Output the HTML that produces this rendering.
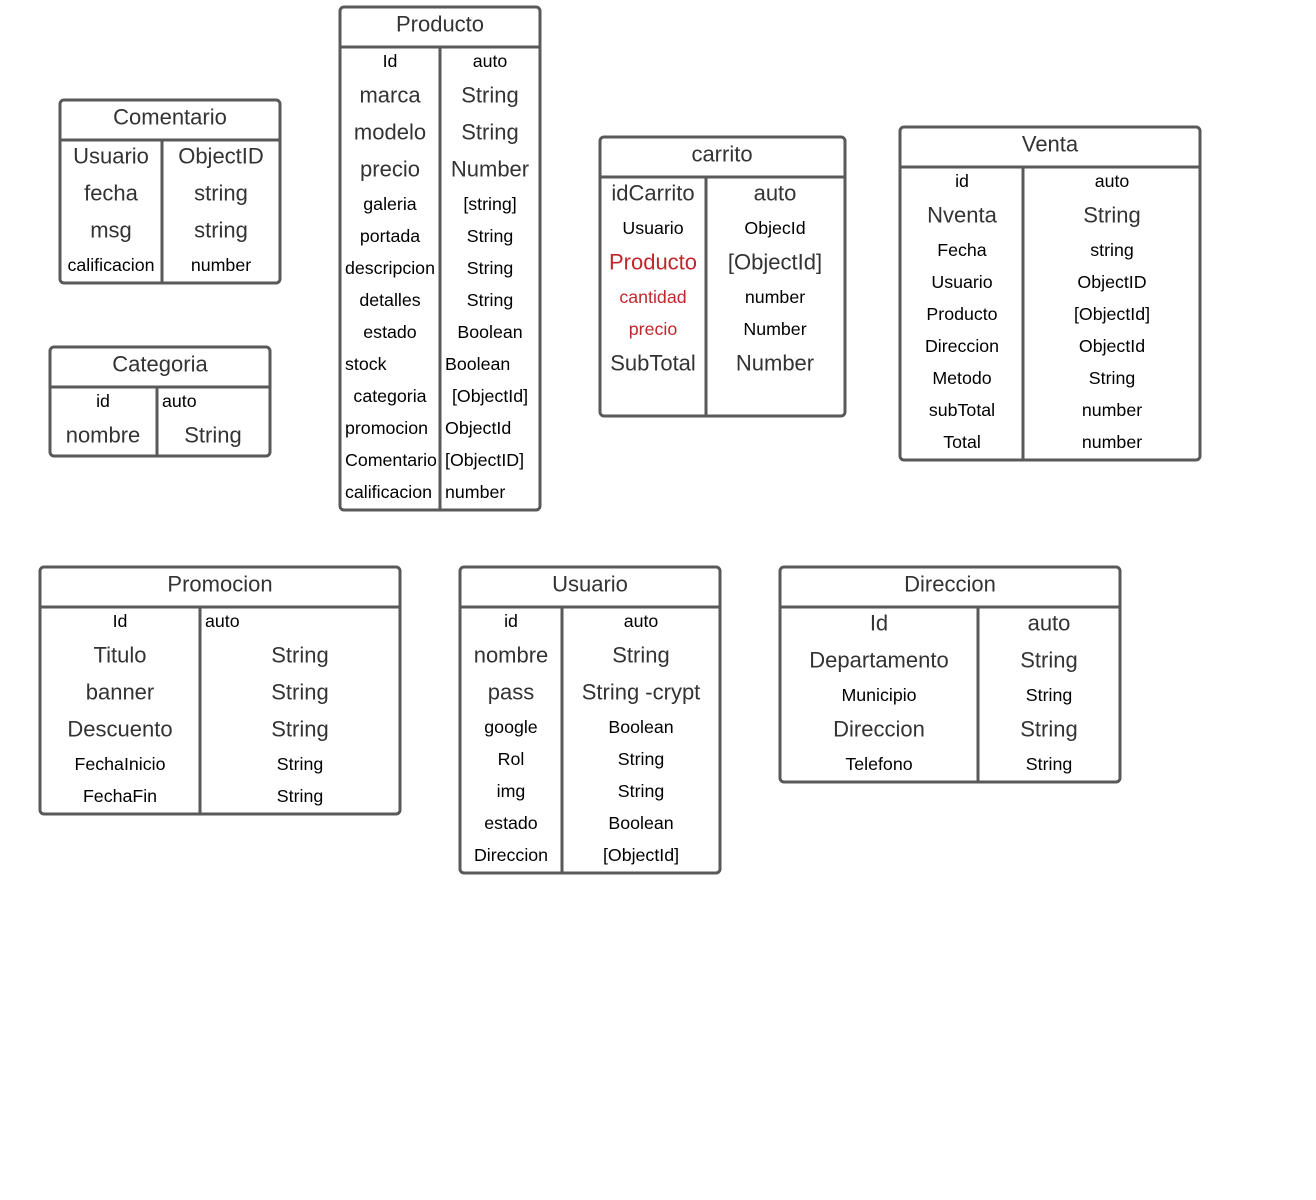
<!DOCTYPE html>
<html><head><meta charset="utf-8"><style>
body{margin:0;background:#fff}
svg text{font-family:"Liberation Sans",sans-serif;dominant-baseline:central}
.t{font-size:22px;fill:#333;text-anchor:middle}
.L{font-size:22px;fill:#333;text-anchor:middle}
.s{font-size:17.8px;fill:#000;text-anchor:middle}
.sl{font-size:17.8px;fill:#000;text-anchor:start}
.r{fill:#c0272d}
rect,line{stroke:#595959;stroke-width:3;fill:none}
</style></head><body>
<svg width="1316" height="1195" xmlns="http://www.w3.org/2000/svg">
<!-- Producto -->
<rect x="340" y="7" width="200" height="503" rx="4"/><line x1="340" y1="47" x2="540" y2="47"/><line x1="440" y1="47" x2="440" y2="510"/>
<text class="t" x="440" y="24">Producto</text>
<text class="s" x="390" y="61">Id</text><text class="s" x="490" y="61">auto</text>
<text class="L" x="390" y="95">marca</text><text class="L" x="490" y="95">String</text>
<text class="L" x="390" y="132">modelo</text><text class="L" x="490" y="132">String</text>
<text class="L" x="390" y="169">precio</text><text class="L" x="490" y="169">Number</text>
<text class="s" x="390" y="204">galeria</text><text class="s" x="490" y="204">[string]</text>
<text class="s" x="390" y="236">portada</text><text class="s" x="490" y="236">String</text>
<text class="s" x="390" y="268">descripcion</text><text class="s" x="490" y="268">String</text>
<text class="s" x="390" y="300">detalles</text><text class="s" x="490" y="300">String</text>
<text class="s" x="390" y="332">estado</text><text class="s" x="490" y="332">Boolean</text>
<text class="sl" x="345" y="364">stock</text><text class="sl" x="445" y="364">Boolean</text>
<text class="s" x="390" y="396">categoria</text><text class="s" x="490" y="396">[ObjectId]</text>
<text class="sl" x="345" y="428">promocion</text><text class="sl" x="445" y="428">ObjectId</text>
<text class="sl" x="345" y="460">Comentario</text><text class="sl" x="445" y="460">[ObjectID]</text>
<text class="sl" x="345" y="492">calificacion</text><text class="sl" x="445" y="492">number</text>
<!-- Comentario -->
<rect x="60" y="100" width="220" height="183" rx="4"/><line x1="60" y1="140" x2="280" y2="140"/><line x1="162" y1="140" x2="162" y2="283"/>
<text class="t" x="170" y="117">Comentario</text>
<text class="L" x="111" y="156">Usuario</text><text class="L" x="221" y="156">ObjectID</text>
<text class="L" x="111" y="193">fecha</text><text class="L" x="221" y="193">string</text>
<text class="L" x="111" y="230">msg</text><text class="L" x="221" y="230">string</text>
<text class="s" x="111" y="265">calificacion</text><text class="s" x="221" y="265">number</text>
<!-- Categoria -->
<rect x="50" y="347" width="220" height="109" rx="4"/><line x1="50" y1="387" x2="270" y2="387"/><line x1="157" y1="387" x2="157" y2="456"/>
<text class="t" x="160" y="364">Categoria</text>
<text class="s" x="103" y="401">id</text><text class="sl" x="162" y="401">auto</text>
<text class="L" x="103" y="435">nombre</text><text class="L" x="213" y="435">String</text>
<!-- carrito -->
<rect x="600" y="137" width="245" height="279" rx="4"/><line x1="600" y1="177" x2="845" y2="177"/><line x1="706" y1="177" x2="706" y2="416"/>
<text class="t" x="722" y="154">carrito</text>
<text class="L" x="653" y="193">idCarrito</text><text class="L" x="775" y="193">auto</text>
<text class="s" x="653" y="228">Usuario</text><text class="s" x="775" y="228">ObjecId</text>
<text class="L r" x="653" y="262">Producto</text><text class="L" x="775" y="262">[ObjectId]</text>
<text class="s r" x="653" y="297">cantidad</text><text class="s" x="775" y="297">number</text>
<text class="s r" x="653" y="329">precio</text><text class="s" x="775" y="329">Number</text>
<text class="L" x="653" y="363">SubTotal</text><text class="L" x="775" y="363">Number</text>
<!-- Venta -->
<rect x="900" y="127" width="300" height="333" rx="4"/><line x1="900" y1="167" x2="1200" y2="167"/><line x1="1023" y1="167" x2="1023" y2="460"/>
<text class="t" x="1050" y="144">Venta</text>
<text class="s" x="962" y="181">id</text><text class="s" x="1112" y="181">auto</text>
<text class="L" x="962" y="215">Nventa</text><text class="L" x="1112" y="215">String</text>
<text class="s" x="962" y="250">Fecha</text><text class="s" x="1112" y="250">string</text>
<text class="s" x="962" y="282">Usuario</text><text class="s" x="1112" y="282">ObjectID</text>
<text class="s" x="962" y="314">Producto</text><text class="s" x="1112" y="314">[ObjectId]</text>
<text class="s" x="962" y="346">Direccion</text><text class="s" x="1112" y="346">ObjectId</text>
<text class="s" x="962" y="378">Metodo</text><text class="s" x="1112" y="378">String</text>
<text class="s" x="962" y="410">subTotal</text><text class="s" x="1112" y="410">number</text>
<text class="s" x="962" y="442">Total</text><text class="s" x="1112" y="442">number</text>
<!-- Promocion -->
<rect x="40" y="567" width="360" height="247" rx="4"/><line x1="40" y1="607" x2="400" y2="607"/><line x1="200" y1="607" x2="200" y2="814"/>
<text class="t" x="220" y="584">Promocion</text>
<text class="s" x="120" y="621">Id</text><text class="sl" x="205" y="621">auto</text>
<text class="L" x="120" y="655">Titulo</text><text class="L" x="300" y="655">String</text>
<text class="L" x="120" y="692">banner</text><text class="L" x="300" y="692">String</text>
<text class="L" x="120" y="729">Descuento</text><text class="L" x="300" y="729">String</text>
<text class="s" x="120" y="764">FechaInicio</text><text class="s" x="300" y="764">String</text>
<text class="s" x="120" y="796">FechaFin</text><text class="s" x="300" y="796">String</text>
<!-- Usuario -->
<rect x="460" y="567" width="260" height="306" rx="4"/><line x1="460" y1="607" x2="720" y2="607"/><line x1="562" y1="607" x2="562" y2="873"/>
<text class="t" x="590" y="584">Usuario</text>
<text class="s" x="511" y="621">id</text><text class="s" x="641" y="621">auto</text>
<text class="L" x="511" y="655">nombre</text><text class="L" x="641" y="655">String</text>
<text class="L" x="511" y="692">pass</text><text class="L" x="641" y="692">String -crypt</text>
<text class="s" x="511" y="727">google</text><text class="s" x="641" y="727">Boolean</text>
<text class="s" x="511" y="759">Rol</text><text class="s" x="641" y="759">String</text>
<text class="s" x="511" y="791">img</text><text class="s" x="641" y="791">String</text>
<text class="s" x="511" y="823">estado</text><text class="s" x="641" y="823">Boolean</text>
<text class="s" x="511" y="855">Direccion</text><text class="s" x="641" y="855">[ObjectId]</text>
<!-- Direccion -->
<rect x="780" y="567" width="340" height="215" rx="4"/><line x1="780" y1="607" x2="1120" y2="607"/><line x1="978" y1="607" x2="978" y2="782"/>
<text class="t" x="950" y="584">Direccion</text>
<text class="L" x="879" y="623">Id</text><text class="L" x="1049" y="623">auto</text>
<text class="L" x="879" y="660">Departamento</text><text class="L" x="1049" y="660">String</text>
<text class="s" x="879" y="695">Municipio</text><text class="s" x="1049" y="695">String</text>
<text class="L" x="879" y="729">Direccion</text><text class="L" x="1049" y="729">String</text>
<text class="s" x="879" y="764">Telefono</text><text class="s" x="1049" y="764">String</text>
</svg>
</body></html>
